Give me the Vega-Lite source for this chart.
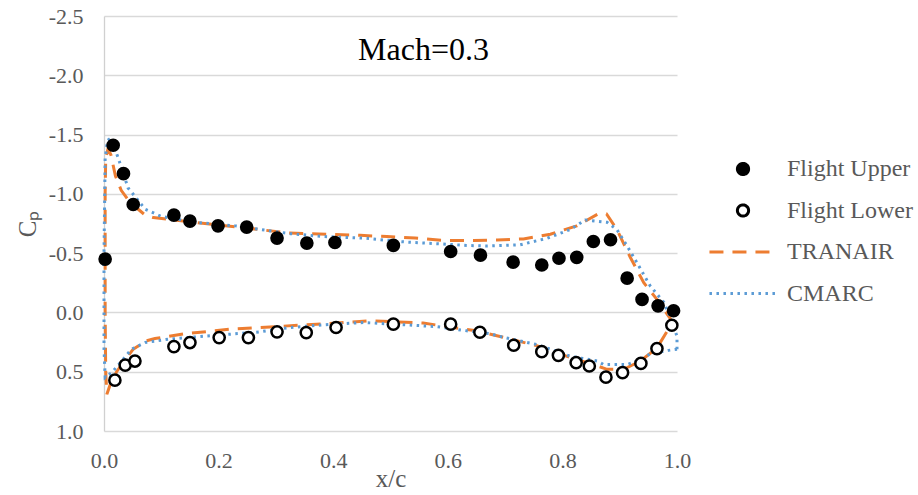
{
  "$schema": "https://vega.github.io/schema/vega-lite/v6.json",
  "width": 573,
  "height": 415,
  "autosize": {"type": "none"},
  "padding": {"left": 104, "top": 16, "right": 241, "bottom": 64},
  "background": "white",
  "config": {
    "view": {"stroke": null},
    "font": "Liberation Serif",
    "legend": {
      "orient": "none",
      "legendX": 627,
      "legendY": 141,
      "labelFont": "Liberation Serif",
      "labelFontSize": 24,
      "labelColor": "#595959",
      "labelOffset": 32,
      "symbolSize": 125,
      "symbolStrokeWidth": 3,
      "rowPadding": 17.5
    }
  },
  "title": {
    "text": "Mach=0.3",
    "font": "Liberation Serif",
    "fontSize": 32,
    "fontWeight": "normal",
    "color": "black",
    "anchor": "middle",
    "baseline": "alphabetic",
    "offset": -38,
    "dy": 49,
    "dx": 33
  },
  "datasets": {
    "flight": [
      {"series": "Flight Upper", "x": 0.002, "y": -0.45},
      {"series": "Flight Upper", "x": 0.016, "y": -1.41},
      {"series": "Flight Upper", "x": 0.034, "y": -1.17},
      {"series": "Flight Upper", "x": 0.051, "y": -0.91},
      {"series": "Flight Upper", "x": 0.122, "y": -0.82},
      {"series": "Flight Upper", "x": 0.150, "y": -0.77},
      {"series": "Flight Upper", "x": 0.199, "y": -0.73},
      {"series": "Flight Upper", "x": 0.249, "y": -0.72},
      {"series": "Flight Upper", "x": 0.302, "y": -0.627},
      {"series": "Flight Upper", "x": 0.354, "y": -0.585},
      {"series": "Flight Upper", "x": 0.403, "y": -0.59},
      {"series": "Flight Upper", "x": 0.505, "y": -0.565},
      {"series": "Flight Upper", "x": 0.605, "y": -0.514},
      {"series": "Flight Upper", "x": 0.657, "y": -0.483},
      {"series": "Flight Upper", "x": 0.714, "y": -0.424},
      {"series": "Flight Upper", "x": 0.764, "y": -0.40},
      {"series": "Flight Upper", "x": 0.794, "y": -0.457},
      {"series": "Flight Upper", "x": 0.825, "y": -0.465},
      {"series": "Flight Upper", "x": 0.854, "y": -0.598},
      {"series": "Flight Upper", "x": 0.884, "y": -0.613},
      {"series": "Flight Upper", "x": 0.913, "y": -0.289},
      {"series": "Flight Upper", "x": 0.939, "y": -0.11},
      {"series": "Flight Upper", "x": 0.967, "y": -0.056},
      {"series": "Flight Upper", "x": 0.994, "y": -0.014},
      {"series": "Flight Lower", "x": 0.019, "y": 0.571},
      {"series": "Flight Lower", "x": 0.037, "y": 0.444},
      {"series": "Flight Lower", "x": 0.054, "y": 0.41},
      {"series": "Flight Lower", "x": 0.122, "y": 0.288},
      {"series": "Flight Lower", "x": 0.150, "y": 0.254},
      {"series": "Flight Lower", "x": 0.201, "y": 0.212},
      {"series": "Flight Lower", "x": 0.252, "y": 0.212},
      {"series": "Flight Lower", "x": 0.302, "y": 0.164},
      {"series": "Flight Lower", "x": 0.353, "y": 0.17},
      {"series": "Flight Lower", "x": 0.405, "y": 0.127},
      {"series": "Flight Lower", "x": 0.505, "y": 0.099},
      {"series": "Flight Lower", "x": 0.605, "y": 0.099},
      {"series": "Flight Lower", "x": 0.656, "y": 0.167},
      {"series": "Flight Lower", "x": 0.715, "y": 0.277},
      {"series": "Flight Lower", "x": 0.764, "y": 0.331},
      {"series": "Flight Lower", "x": 0.793, "y": 0.362},
      {"series": "Flight Lower", "x": 0.824, "y": 0.424},
      {"series": "Flight Lower", "x": 0.847, "y": 0.452},
      {"series": "Flight Lower", "x": 0.876, "y": 0.546},
      {"series": "Flight Lower", "x": 0.905, "y": 0.508},
      {"series": "Flight Lower", "x": 0.937, "y": 0.43},
      {"series": "Flight Lower", "x": 0.965, "y": 0.305},
      {"series": "Flight Lower", "x": 0.991, "y": 0.108}
    ],
    "cfd": [
      {"series": "TRANAIR", "i": 1, "x": 0.99, "y": 0.10},
      {"series": "TRANAIR", "i": 2, "x": 0.988, "y": 0.05},
      {"series": "TRANAIR", "i": 3, "x": 0.965, "y": -0.11},
      {"series": "TRANAIR", "i": 4, "x": 0.942, "y": -0.25},
      {"series": "TRANAIR", "i": 5, "x": 0.918, "y": -0.47},
      {"series": "TRANAIR", "i": 6, "x": 0.895, "y": -0.70},
      {"series": "TRANAIR", "i": 7, "x": 0.877, "y": -0.83},
      {"series": "TRANAIR", "i": 8, "x": 0.862, "y": -0.83},
      {"series": "TRANAIR", "i": 9, "x": 0.825, "y": -0.73},
      {"series": "TRANAIR", "i": 10, "x": 0.779, "y": -0.66},
      {"series": "TRANAIR", "i": 11, "x": 0.732, "y": -0.62},
      {"series": "TRANAIR", "i": 12, "x": 0.686, "y": -0.61},
      {"series": "TRANAIR", "i": 13, "x": 0.645, "y": -0.607},
      {"series": "TRANAIR", "i": 14, "x": 0.592, "y": -0.607},
      {"series": "TRANAIR", "i": 15, "x": 0.543, "y": -0.627},
      {"series": "TRANAIR", "i": 16, "x": 0.494, "y": -0.64},
      {"series": "TRANAIR", "i": 17, "x": 0.447, "y": -0.65},
      {"series": "TRANAIR", "i": 18, "x": 0.32, "y": -0.67},
      {"series": "TRANAIR", "i": 19, "x": 0.27, "y": -0.70},
      {"series": "TRANAIR", "i": 20, "x": 0.176, "y": -0.75},
      {"series": "TRANAIR", "i": 21, "x": 0.086, "y": -0.80},
      {"series": "TRANAIR", "i": 22, "x": 0.072, "y": -0.82},
      {"series": "TRANAIR", "i": 23, "x": 0.045, "y": -0.93},
      {"series": "TRANAIR", "i": 24, "x": 0.03, "y": -1.03},
      {"series": "TRANAIR", "i": 25, "x": 0.02, "y": -1.15},
      {"series": "TRANAIR", "i": 26, "x": 0.012, "y": -1.33},
      {"series": "TRANAIR", "i": 27, "x": 0.007, "y": -1.38},
      {"series": "TRANAIR", "i": 28, "x": 0.003, "y": -1.3},
      {"series": "TRANAIR", "i": 29, "x": 0.002, "y": -1.0},
      {"series": "TRANAIR", "i": 30, "x": 0.002, "y": 0.0},
      {"series": "TRANAIR", "i": 31, "x": 0.003, "y": 0.5},
      {"series": "TRANAIR", "i": 32, "x": 0.005, "y": 0.69},
      {"series": "TRANAIR", "i": 33, "x": 0.01, "y": 0.62},
      {"series": "TRANAIR", "i": 34, "x": 0.022, "y": 0.50},
      {"series": "TRANAIR", "i": 35, "x": 0.037, "y": 0.40},
      {"series": "TRANAIR", "i": 36, "x": 0.051, "y": 0.31},
      {"series": "TRANAIR", "i": 37, "x": 0.074, "y": 0.24},
      {"series": "TRANAIR", "i": 38, "x": 0.089, "y": 0.22},
      {"series": "TRANAIR", "i": 39, "x": 0.141, "y": 0.18},
      {"series": "TRANAIR", "i": 40, "x": 0.223, "y": 0.14},
      {"series": "TRANAIR", "i": 41, "x": 0.371, "y": 0.10},
      {"series": "TRANAIR", "i": 42, "x": 0.465, "y": 0.07},
      {"series": "TRANAIR", "i": 43, "x": 0.557, "y": 0.09},
      {"series": "TRANAIR", "i": 44, "x": 0.65, "y": 0.155},
      {"series": "TRANAIR", "i": 45, "x": 0.697, "y": 0.21},
      {"series": "TRANAIR", "i": 46, "x": 0.755, "y": 0.28},
      {"series": "TRANAIR", "i": 47, "x": 0.814, "y": 0.38},
      {"series": "TRANAIR", "i": 48, "x": 0.86, "y": 0.45},
      {"series": "TRANAIR", "i": 49, "x": 0.878, "y": 0.48},
      {"series": "TRANAIR", "i": 50, "x": 0.907, "y": 0.48},
      {"series": "TRANAIR", "i": 51, "x": 0.936, "y": 0.41},
      {"series": "TRANAIR", "i": 52, "x": 0.965, "y": 0.30},
      {"series": "TRANAIR", "i": 53, "x": 0.99, "y": 0.10},
      {"series": "CMARC", "i": 1, "x": 1.0, "y": 0.31},
      {"series": "CMARC", "i": 2, "x": 1.0, "y": 0.2},
      {"series": "CMARC", "i": 3, "x": 0.988, "y": 0.04},
      {"series": "CMARC", "i": 4, "x": 0.977, "y": -0.085},
      {"series": "CMARC", "i": 5, "x": 0.953, "y": -0.225},
      {"series": "CMARC", "i": 6, "x": 0.93, "y": -0.42},
      {"series": "CMARC", "i": 7, "x": 0.913, "y": -0.56},
      {"series": "CMARC", "i": 8, "x": 0.895, "y": -0.70},
      {"series": "CMARC", "i": 9, "x": 0.878, "y": -0.76},
      {"series": "CMARC", "i": 10, "x": 0.84, "y": -0.78},
      {"series": "CMARC", "i": 11, "x": 0.814, "y": -0.70},
      {"series": "CMARC", "i": 12, "x": 0.773, "y": -0.625},
      {"series": "CMARC", "i": 13, "x": 0.726, "y": -0.57},
      {"series": "CMARC", "i": 14, "x": 0.668, "y": -0.56},
      {"series": "CMARC", "i": 15, "x": 0.633, "y": -0.565},
      {"series": "CMARC", "i": 16, "x": 0.581, "y": -0.58},
      {"series": "CMARC", "i": 17, "x": 0.528, "y": -0.593},
      {"series": "CMARC", "i": 18, "x": 0.453, "y": -0.627},
      {"series": "CMARC", "i": 19, "x": 0.383, "y": -0.64},
      {"series": "CMARC", "i": 20, "x": 0.325, "y": -0.664},
      {"series": "CMARC", "i": 21, "x": 0.229, "y": -0.73},
      {"series": "CMARC", "i": 22, "x": 0.159, "y": -0.76},
      {"series": "CMARC", "i": 23, "x": 0.10, "y": -0.81},
      {"series": "CMARC", "i": 24, "x": 0.072, "y": -0.87},
      {"series": "CMARC", "i": 25, "x": 0.042, "y": -1.05},
      {"series": "CMARC", "i": 26, "x": 0.025, "y": -1.30},
      {"series": "CMARC", "i": 27, "x": 0.012, "y": -1.47},
      {"series": "CMARC", "i": 28, "x": 0.006, "y": -1.45},
      {"series": "CMARC", "i": 29, "x": 0.002, "y": -1.3},
      {"series": "CMARC", "i": 30, "x": 0.0, "y": -0.5},
      {"series": "CMARC", "i": 31, "x": 0.0, "y": 0.3},
      {"series": "CMARC", "i": 32, "x": 0.002, "y": 0.55},
      {"series": "CMARC", "i": 33, "x": 0.013, "y": 0.51},
      {"series": "CMARC", "i": 34, "x": 0.031, "y": 0.41},
      {"series": "CMARC", "i": 35, "x": 0.048, "y": 0.31},
      {"series": "CMARC", "i": 36, "x": 0.072, "y": 0.254},
      {"series": "CMARC", "i": 37, "x": 0.112, "y": 0.226},
      {"series": "CMARC", "i": 38, "x": 0.176, "y": 0.20},
      {"series": "CMARC", "i": 39, "x": 0.27, "y": 0.165},
      {"series": "CMARC", "i": 40, "x": 0.325, "y": 0.127},
      {"series": "CMARC", "i": 41, "x": 0.383, "y": 0.105},
      {"series": "CMARC", "i": 42, "x": 0.453, "y": 0.085},
      {"series": "CMARC", "i": 43, "x": 0.528, "y": 0.105},
      {"series": "CMARC", "i": 44, "x": 0.581, "y": 0.12},
      {"series": "CMARC", "i": 45, "x": 0.633, "y": 0.155},
      {"series": "CMARC", "i": 46, "x": 0.674, "y": 0.18},
      {"series": "CMARC", "i": 47, "x": 0.697, "y": 0.21},
      {"series": "CMARC", "i": 48, "x": 0.755, "y": 0.27},
      {"series": "CMARC", "i": 49, "x": 0.814, "y": 0.37},
      {"series": "CMARC", "i": 50, "x": 0.861, "y": 0.41},
      {"series": "CMARC", "i": 51, "x": 0.872, "y": 0.44},
      {"series": "CMARC", "i": 52, "x": 0.913, "y": 0.44},
      {"series": "CMARC", "i": 53, "x": 0.936, "y": 0.40},
      {"series": "CMARC", "i": 54, "x": 0.953, "y": 0.35},
      {"series": "CMARC", "i": 55, "x": 0.985, "y": 0.32},
      {"series": "CMARC", "i": 56, "x": 1.0, "y": 0.31}
    ]
  },
  "encoding": {
    "x": {
      "field": "x",
      "type": "quantitative",
      "scale": {"domain": [0, 1], "nice": false, "zero": false},
      "axis": {
        "values": [0, 0.2, 0.4, 0.6, 0.8, 1.0],
        "format": ".1f",
        "labelFlush": false,
        "grid": false,
        "domain": false,
        "ticks": false,
        "labelFont": "Liberation Serif",
        "labelFontSize": 22,
        "labelColor": "#595959",
        "labelPadding": 19,
        "title": "x/c",
        "titleFont": "Liberation Serif",
        "titleFontSize": 25,
        "titleFontWeight": "normal",
        "titleColor": "#595959",
        "titlePadding": -5
      }
    },
    "y": {
      "field": "y",
      "type": "quantitative",
      "scale": {"domain": [-2.5, 1.0], "nice": false, "zero": false, "reverse": true},
      "axis": {
        "values": [-2.5, -2.0, -1.5, -1.0, -0.5, 0.0, 0.5, 1.0],
        "labelExpr": "replace(format(datum.value, '.1f'), '\u2212', '-')",
        "labelFlush": false,
        "grid": true,
        "gridColor": "#d9d9d9",
        "gridWidth": 1.3,
        "domain": true,
        "domainColor": "#d0d0d0",
        "domainWidth": 1.3,
        "ticks": false,
        "labelFont": "Liberation Serif",
        "labelFontSize": 22,
        "labelColor": "#595959",
        "labelPadding": 21,
        "title": "Cₚ",
        "titleFont": "Liberation Serif",
        "titleFontSize": 25,
        "titleFontWeight": "normal",
        "titleColor": "#595959",
        "titlePadding": 8
      }
    }
  },
  "layer": [
    {
      "data": {"name": "cfd"},
      "mark": {"type": "line", "strokeWidth": 3, "clip": false},
      "encoding": {
        "order": {"field": "i", "type": "quantitative"},
        "color": {
          "field": "series",
          "type": "nominal",
          "scale": {"domain": ["Flight Upper", "Flight Lower", "TRANAIR", "CMARC"], "range": ["black", "black", "#ED7D31", "#5B9BD5"]},
          "legend": {"title": null}
        },
        "strokeDash": {
          "field": "series",
          "type": "nominal",
          "scale": {"domain": ["Flight Upper", "Flight Lower", "TRANAIR", "CMARC"], "range": [[1, 0], [1, 0], [14, 9], [2.5, 4.5]]},
          "legend": {"title": null}
        }
      }
    },
    {
      "data": {"name": "flight"},
      "mark": {"type": "point", "filled": false, "strokeWidth": 2.5, "size": 125, "opacity": 1},
      "encoding": {
        "color": {
          "field": "series",
          "type": "nominal",
          "scale": {"domain": ["Flight Upper", "Flight Lower", "TRANAIR", "CMARC"], "range": ["black", "black", "#ED7D31", "#5B9BD5"]},
          "legend": {"title": null}
        },
        "fill": {
          "field": "series",
          "type": "nominal",
          "scale": {"domain": ["Flight Upper", "Flight Lower", "TRANAIR", "CMARC"], "range": ["black", "white", "transparent", "transparent"]},
          "legend": {"title": null}
        },
        "shape": {
          "field": "series",
          "type": "nominal",
          "scale": {"domain": ["Flight Upper", "Flight Lower", "TRANAIR", "CMARC"], "range": ["circle", "circle", "M-6,0L6,0", "M-6,0L6,0"]},
          "legend": {"title": null}
        }
      }
    }
  ]
}
